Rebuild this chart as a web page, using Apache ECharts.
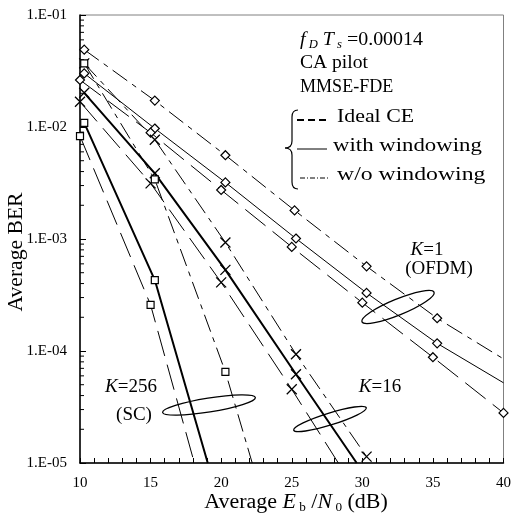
<!DOCTYPE html>
<html>
<head>
<meta charset="utf-8">
<script src="https://cdn.jsdelivr.net/npm/echarts@6/dist/echarts.min.js"></script>
<style>
  html, body { margin: 0; padding: 0; background: #fff; }
  #main { width: 514px; height: 516px; }
</style>
</head>
<body>
<div id="main"></div>
<script>
// axis ticks
const xTicks = [10, 15, 20, 25, 30, 35, 40]
const yDecades = [1e-5, 1e-4, 1e-3, 1e-2, 1e-1]
const yMinorTicks = []
yDecades.slice(0, 4).forEach(d => { for (let m = 2; m <= 9; m++) yMinorTicks.push(d * m) })

// K=1 (OFDM), diamonds
const k1Wo = [[10.3, 0.049], [15.3, 0.0172], [20.3, 0.0056], [25.2, 0.0018], [30.3, 0.00057], [35.3, 0.000196]]
const k1WoTail = [[40, 8.5e-5]]
const k1With = [[10.3, 0.0301], [15.3, 0.0097], [20.3, 0.0032], [25.3, 0.00101], [30.3, 0.00033], [35.3, 0.000117]]
const k1WithTail = [[40, 5.2e-5]]
const k1Ideal = [[10, 0.0263], [15, 0.0089], [20, 0.00274], [25, 0.00085], [30, 0.00027], [35, 8.8e-5], [40, 2.8e-5]]

// K=16, crosses
const k16Wo = [[10.3, 0.037], [15.3, 0.0077], [20.3, 0.00093], [25.3, 9.35e-5], [30.3, 1.14e-5]]
const k16With = [[10.3, 0.0202], [15.3, 0.00386], [20.3, 0.00053], [25.3, 6.2e-5]]
const k16WithTail = [[29.6, 1e-5]]
const k16Ideal = [[10, 0.0168], [15, 0.00314], [20, 0.00041], [25, 4.55e-5]]
const k16IdealTail = [[28.3, 1e-5]]

// K=256 (SC), squares
const k256Wo = [[10.3, 0.037], [15.3, 0.0034], [20.3, 6.5e-5]]
const k256WoTail = [[22.2, 1e-5]]
const k256With = [[10.3, 0.0109], [15.3, 0.00043]]
const k256WithTail = [[19.05, 1e-5]]
const k256Ideal = [[10, 0.0083], [15, 0.000258]]
const k256IdealTail = [[18.1, 1e-5]]

const FONT = 'Liberation Serif'
const DASH = [26, 9]
const DASHDOT = [18, 6, 5, 6]
const CROSS = 'path://M0,0L10,10M10,0L0,10'

function curve(points, tail, marker, size, lineType, width) {
  return {
    type: 'line',
    data: points.concat(tail || []),
    symbol: (v, p) => (p.dataIndex < points.length ? marker : 'none'),
    symbolSize: size,
    showAllSymbol: true,
    lineStyle: { color: '#000', width: width, type: lineType },
    itemStyle: { color: '#fff', borderColor: '#000', borderWidth: marker === CROSS ? 1.3 : 1.2 },
    emphasis: { disabled: true },
    animation: false,
    z: 3
  }
}

function label(x, y, text, opts) {
  opts = opts || {}
  return {
    type: 'text', x: x, y: y, scaleX: opts.sx || 1, rotation: opts.rot || 0,
    style: {
      text: text, fill: '#000', align: opts.align || 'left', verticalAlign: 'middle',
      font: (opts.size || 19) + 'px "Liberation Serif"',
      rich: {
        n: { fontFamily: FONT, fontSize: opts.size || 19, lineHeight: 22 },
        i: { fontFamily: FONT, fontSize: opts.size || 19, fontStyle: 'italic', lineHeight: 22 },
        s: { fontFamily: FONT, fontSize: 12, lineHeight: 8, verticalAlign: 'bottom' },
        si: { fontFamily: FONT, fontSize: 12, fontStyle: 'italic', lineHeight: 8, verticalAlign: 'bottom' }
      }
    }
  }
}

const chart = echarts.init(document.getElementById('main'))
const option = {
  backgroundColor: '#fff',
  textStyle: { fontFamily: FONT },
  grid: { left: 80, right: 6, top: 15, bottom: 53, show: true, borderColor: '#808080', borderWidth: 1 },
  xAxis: {
    type: 'value',
    min: 10,
    max: 40,
    interval: 5,
    axisLine: { lineStyle: { color: '#000', width: 1.5 } },
    axisTick: { inside: true, length: 5, lineStyle: { color: '#000' } },
    minorTick: { show: true, splitNumber: 5, length: 5, lineStyle: { color: '#000' } },
    splitLine: { show: false },
    axisLabel: { color: '#000', fontSize: 15, fontFamily: FONT, margin: 13 }
  },
  yAxis: {
    type: 'log',
    logBase: 10,
    min: 1e-5,
    max: 1e-1,
    axisLine: { lineStyle: { color: '#000', width: 1.5 } },
    axisTick: { inside: true, length: 6, lineStyle: { color: '#000' } },
    splitLine: { show: false },
    axisLabel: {
      color: '#000', fontSize: 15, fontFamily: FONT, margin: 13,
      formatter: v => '1.E-0' + Math.round(-Math.log10(v))
    }
  },
  series: [
    {
      type: 'custom',
      data: yMinorTicks.map(v => [10, v]),
      renderItem: (params, api) => {
        const p = api.coord([api.value(0), api.value(1)])
        return { type: 'line', shape: { x1: p[0], y1: p[1], x2: p[0] + 4, y2: p[1] }, style: { stroke: '#000', lineWidth: 1 } }
      },
      silent: true,
      animation: false,
      z: 1
    },
    curve(k1Wo, k1WoTail, 'diamond', 9, DASHDOT, 1),
    curve(k1With, k1WithTail, 'diamond', 9, 'solid', 1),
    curve(k1Ideal, [], 'diamond', 9, DASH, 1),
    curve(k16Wo, [], CROSS, 10, DASHDOT, 1),
    curve(k16With, k16WithTail, CROSS, 10, 'solid', 2),
    curve(k16Ideal, k16IdealTail, CROSS, 10, DASH, 1),
    curve(k256Wo, k256WoTail, 'rect', 7, DASHDOT, 1),
    curve(k256With, k256WithTail, 'rect', 7, 'solid', 2),
    curve(k256Ideal, k256IdealTail, 'rect', 7, DASH, 1)
  ],
  graphic: [
    // axis titles
    label(17, 252, 'Average BER', { size: 20, sx: 1.08, rot: Math.PI / 2, align: 'center' }),
    label(296, 503, '{n|Average }{i|E}{s| b}{n| /}{i|N}{s| 0}{n| (dB)}', { size: 20, sx: 1.1, align: 'center' }),
    // condition text
    label(300, 40, '{i|f}{si| D}{i| T}{si| s}{n| =0.00014}', { sx: 1.05 }),
    label(300, 63, 'CA pilot', { sx: 1.03 }),
    label(300, 87, 'MMSE-FDE', { sx: 0.95 }),
    // legend brace
    { type: 'bezierCurve', shape: { x1: 298, y1: 110, x2: 292, y2: 117, cpx1: 292, cpy1: 110 }, style: { stroke: '#000', lineWidth: 1.2, fill: 'none' } },
    { type: 'line', shape: { x1: 292, y1: 117, x2: 292, y2: 141 }, style: { stroke: '#000', lineWidth: 1.2 } },
    { type: 'bezierCurve', shape: { x1: 292, y1: 141, x2: 285, y2: 148, cpx1: 292, cpy1: 148 }, style: { stroke: '#000', lineWidth: 1.2, fill: 'none' } },
    { type: 'bezierCurve', shape: { x1: 285, y1: 148, x2: 292, y2: 155, cpx1: 292, cpy1: 148 }, style: { stroke: '#000', lineWidth: 1.2, fill: 'none' } },
    { type: 'line', shape: { x1: 292, y1: 155, x2: 292, y2: 182 }, style: { stroke: '#000', lineWidth: 1.2 } },
    { type: 'bezierCurve', shape: { x1: 292, y1: 182, x2: 298, y2: 189, cpx1: 292, cpy1: 189 }, style: { stroke: '#000', lineWidth: 1.2, fill: 'none' } },
    // legend samples
    { type: 'line', shape: { x1: 297, y1: 120, x2: 327, y2: 120 }, style: { stroke: '#000', lineWidth: 2, lineDash: [7, 4] } },
    { type: 'line', shape: { x1: 297, y1: 149, x2: 327, y2: 149 }, style: { stroke: '#000', lineWidth: 1 } },
    { type: 'line', shape: { x1: 300, y1: 178, x2: 330, y2: 178 }, style: { stroke: '#000', lineWidth: 1, lineDash: [5, 2, 1, 2] } },
    label(337, 117, 'Ideal CE', { sx: 1.15 }),
    label(333, 146, 'with windowing', { sx: 1.2 }),
    label(337, 175, 'w/o windowing', { sx: 1.25 }),
    // group labels
    label(427, 250, '{i|K}{n|=1}', { align: 'center' }),
    label(439, 269, '(OFDM)', { align: 'center' }),
    label(380, 387, '{i|K}{n|=16}', { align: 'center' }),
    label(131, 387, '{i|K}{n|=256}', { align: 'center' }),
    label(134, 415, '(SC)', { align: 'center' }),
    // grouping ellipses
    { type: 'ellipse', x: 398, y: 307, rotation: 0.39, shape: { cx: 0, cy: 0, rx: 39, ry: 8 }, style: { stroke: '#000', lineWidth: 1.3, fill: 'none' }, z: 10 },
    { type: 'ellipse', x: 330, y: 419, rotation: 0.3, shape: { cx: 0, cy: 0, rx: 38, ry: 6 }, style: { stroke: '#000', lineWidth: 1.3, fill: 'none' }, z: 10 },
    { type: 'ellipse', x: 209, y: 405, rotation: 0.16, shape: { cx: 0, cy: 0, rx: 47, ry: 7 }, style: { stroke: '#000', lineWidth: 1.3, fill: 'none' }, z: 10 }
  ]
}
chart.setOption(option)
</script>
</body>
</html>
